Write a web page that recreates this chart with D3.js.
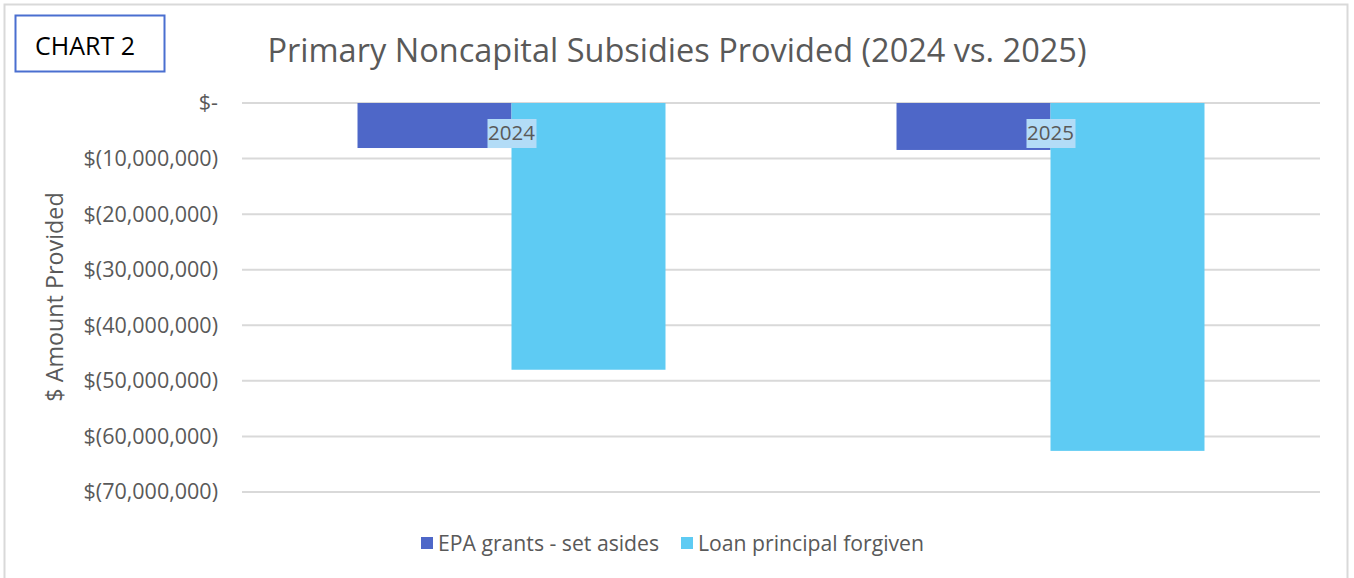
<!DOCTYPE html>
<html>
<head>
<meta charset="utf-8">
<script src="https://cdn.jsdelivr.net/npm/d3@7"></script>
<style>
  body { margin: 0; background: #fff; }
  text { font-family: "Open Sans", "Noto Sans", sans-serif; }
</style>
</head>
<body>
<svg id="chart" width="1354" height="578"></svg>
<script>
// data
const years = ["2024", "2025"];
const seriesNames = ["EPA grants - set asides", "Loan principal forgiven"];
const epaGrants = [-8100000, -8450000];
const loanForgiven = [-48000000, -62600000];
const yTicks = [0, -10000000, -20000000, -30000000, -40000000, -50000000, -60000000, -70000000];
const colors = ["#4e67c8", "#5ecbf3"];

const svg = d3.select("#chart");
const W = 1354, H = 578;

// outer frame
svg.append("rect")
  .attr("x", 4.5).attr("y", 4.5)
  .attr("width", 1343).attr("height", 580)
  .attr("fill", "#fff")
  .attr("stroke", "#d9d9d9")
  .attr("stroke-width", 2);

const margin = { left: 242, right: 34, top: 103, bottom: 86 };
const plotW = W - margin.left - margin.right;

const y = d3.scaleLinear()
  .domain([0, -70000000])
  .range([margin.top, 492]);

const x0 = d3.scaleBand()
  .domain(years)
  .range([margin.left, margin.left + plotW]);

// gap width 150% -> the two bars take 4/7 of the band
const x1 = d3.scaleBand()
  .domain(seriesNames)
  .range([0, x0.bandwidth() * 0.5714])
  .padding(0);

const fmt = v => v === 0 ? "$-" : "$(" + d3.format(",")(Math.abs(v)) + ")";

// grid
svg.append("g")
  .selectAll("line")
  .data(yTicks)
  .join("line")
  .attr("x1", margin.left).attr("x2", margin.left + plotW)
  .attr("y1", d => y(d)).attr("y2", d => y(d))
  .attr("stroke", "#d9d9d9")
  .attr("stroke-width", 2);

// y axis labels
const yAxis = d3.axisLeft(y).tickValues(yTicks).tickFormat(fmt).tickSize(0).tickPadding(24);
const gy = svg.append("g")
  .attr("transform", "translate(" + margin.left + ",0)")
  .call(yAxis);
gy.select(".domain").remove();
gy.selectAll("text")
  .attr("fill", "#595959")
  .attr("font-size", "21.5px")
  .style("font-family", "'Open Sans', sans-serif");

// bars
const rows = years.map((yr, i) => ({ year: yr, vals: [epaGrants[i], loanForgiven[i]] }));
const groups = svg.append("g")
  .selectAll("g")
  .data(rows)
  .join("g")
  .attr("transform", d => "translate(" + (x0(d.year) + x0.bandwidth() * 0.2143) + ",0)");

groups.selectAll("rect")
  .data(d => d.vals.map((v, j) => ({ name: seriesNames[j], value: v, j: j })))
  .join("rect")
  .attr("x", d => x1(d.name))
  .attr("y", y(0))
  .attr("width", x1.bandwidth())
  .attr("height", d => y(d.value) - y(0))
  .attr("fill", d => colors[d.j]);

// category labels near axis with light background
const catLab = svg.append("g")
  .selectAll("g")
  .data(years)
  .join("g")
  .attr("transform", d => "translate(" + (x0(d) + x0.bandwidth() / 2) + ",133)");
catLab.append("rect")
  .attr("x", -24).attr("y", -14)
  .attr("width", 49).attr("height", 29)
  .attr("fill", "#b3dcf7");
catLab.append("text")
  .attr("text-anchor", "middle")
  .attr("dy", "0.36em")
  .attr("fill", "#595959")
  .attr("font-size", "20.5px")
  .text(d => d);

// title
svg.append("text")
  .attr("x", 677).attr("y", 62)
  .attr("text-anchor", "middle")
  .attr("fill", "#595959")
  .attr("font-size", "32.5px")
  .text("Primary Noncapital Subsidies Provided (2024 vs. 2025)");

// y axis title
svg.append("text")
  .attr("transform", "translate(63,297) rotate(-90)")
  .attr("text-anchor", "middle")
  .attr("fill", "#595959")
  .attr("font-size", "23.3px")
  .text("$ Amount Provided");

// chart tag box
svg.append("rect")
  .attr("x", 15.5).attr("y", 15.5)
  .attr("width", 149).attr("height", 56)
  .attr("fill", "#fff")
  .attr("stroke", "#4a6fd0")
  .attr("stroke-width", 2);
svg.append("text")
  .attr("x", 35).attr("y", 55)
  .attr("fill", "#000")
  .attr("font-size", "25px")
  .text("CHART 2");

// legend
const legend = svg.append("g").attr("transform", "translate(421,543)");
const legX = [0, 260];
const li = legend.selectAll("g")
  .data(seriesNames)
  .join("g")
  .attr("transform", (d, i) => "translate(" + legX[i] + ",0)");
li.append("rect")
  .attr("x", 0).attr("y", -6)
  .attr("width", 12).attr("height", 12)
  .attr("fill", (d, i) => colors[i]);
li.append("text")
  .attr("x", 17)
  .attr("dy", "0.36em")
  .attr("fill", "#595959")
  .attr("font-size", "21.2px")
  .text(d => d);
</script>
</body>
</html>
